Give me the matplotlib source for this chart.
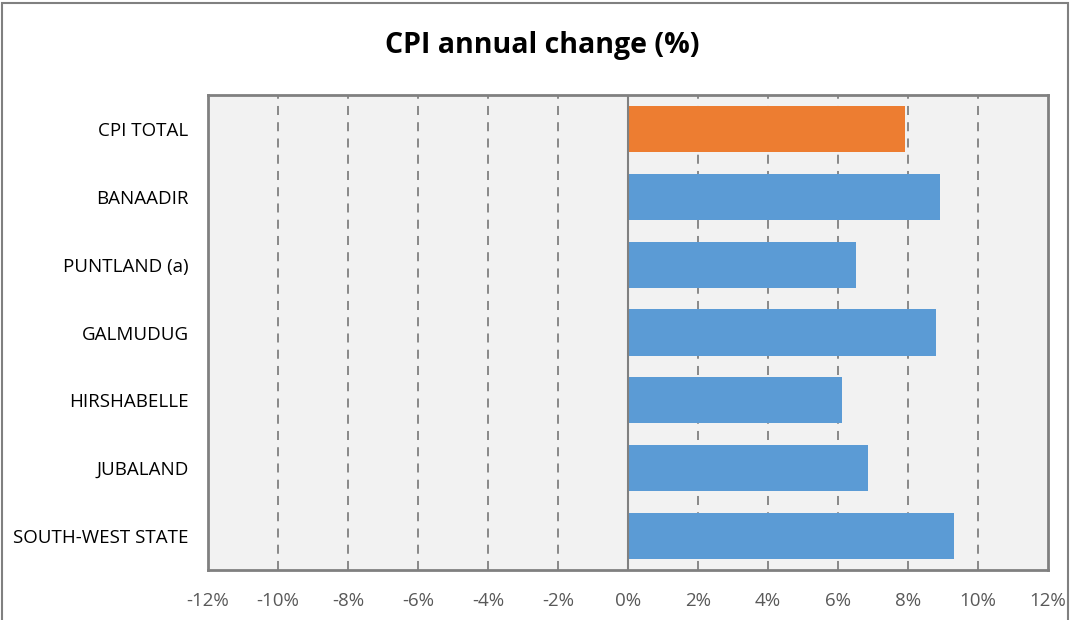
import matplotlib.pyplot as plt
from matplotlib.patches import Rectangle

# Data
regions = ["CPI TOTAL", "BANAADIR", "PUNTLAND (a)", "GALMUDUG",
           "HIRSHABELLE", "JUBALAND", "SOUTH-WEST STATE"]
change = [7.9, 8.9, 6.5, 8.8, 6.1, 6.85, 9.3]
bar_colors = ["#ed7d31"] + ["#5b9bd5"] * 6
ticks = list(range(-12, 13, 2))

plt.rcParams['font.family'] = ['Open Sans', 'DejaVu Sans']

fig = plt.figure(figsize=(10.7, 6.2), dpi=100)
ax = fig.add_axes([208 / 1070, 50 / 620, 840 / 1070, 475 / 620])

ypos = list(range(len(regions)))
ax.barh(ypos, change, height=0.68, color=bar_colors, zorder=3)

ax.set_xlim(-12, 12)
ax.set_ylim(len(regions) - 0.5, -0.5)
ax.set_facecolor("#f2f2f2")

ax.set_xticks(ticks)
ax.set_xticklabels([f"{t}%" for t in ticks], color="#595959", fontsize=13.5)
ax.set_yticks(ypos)
ax.set_yticklabels(regions, fontsize=13.5, color="black")
ax.tick_params(length=0)
ax.tick_params(axis='y', pad=14)
ax.tick_params(axis='x', pad=16)

for t in ticks:
    if t in (-12, 12):
        continue
    if t == 0:
        ax.axvline(0, color="#808080", lw=1.5, zorder=4)
    else:
        ax.axvline(t, color="#808080", lw=1.3, ls=(0, (5, 4)), zorder=1)

for s in ax.spines.values():
    s.set_color("#808080")
    s.set_linewidth(2)

fig.text(542 / 1070, 1 - 46 / 620, "CPI annual change (%)", ha="center",
         va="center", fontsize=20.5, fontweight="bold")

# outer chart frame
fig.patches.append(Rectangle((2 / 1070, -0.01), 1066 / 1070, 1 - 3 / 620 + 0.01,
                             transform=fig.transFigure, fill=False,
                             edgecolor="#808080", lw=1.5))

fig.savefig("out.png", dpi=100)
